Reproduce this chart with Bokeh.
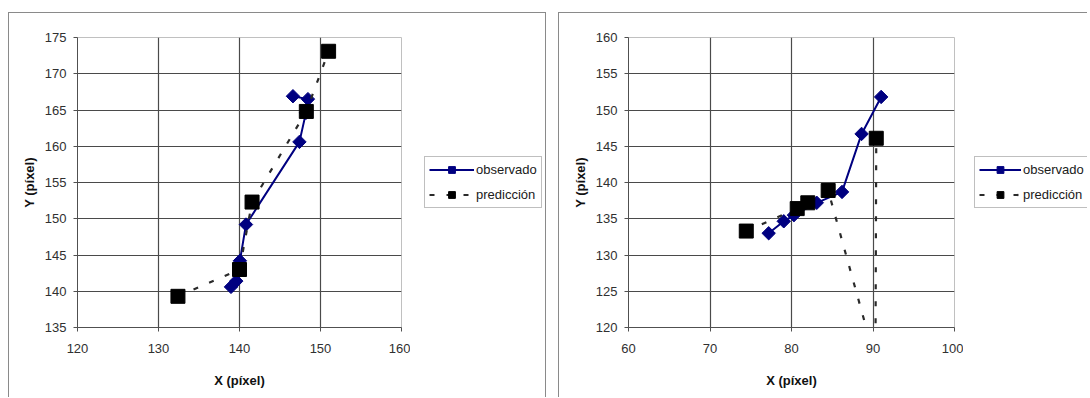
import numpy as np
from bokeh.plotting import figure
from bokeh.models import Legend, LegendItem, FixedTicker, Range1d
from bokeh.layouts import row
from bokeh.embed import file_html
from bokeh.resources import INLINE

# ---------------- data ----------------
# left chart
left_obs_x = [138.95, 139.6, 140.05, 140.8, 147.4, 148.2, 148.45, 146.6]
left_obs_y = [140.6, 141.4, 144.2, 149.2, 160.6, 164.6, 166.5, 166.9]
left_pred_x = [132.4, 140.0, 141.55, 148.25, 151.0]
left_pred_y = [139.3, 143.0, 152.3, 164.8, 173.1]
left_xticks = [120, 130, 140, 150, 160]
left_yticks = [135, 140, 145, 150, 155, 160, 165, 170, 175]

# right chart
right_obs_x = [77.2, 79.05, 80.3, 83.1, 86.2, 88.6, 91.0]
right_obs_y = [133.0, 134.65, 135.5, 137.2, 138.7, 146.7, 151.8]
right_pred_x = [74.45, 80.7, 82.0, 84.5, 90.3, 90.4]
right_pred_y = [133.3, 136.4, 137.2, 138.9, 115.4, 146.1]
right_xticks = [60, 70, 80, 90, 100]
right_yticks = [120, 125, 130, 135, 140, 145, 150, 155, 160]

series_labels = ["observado", "predicción"]
x_title = "X (píxel)"
y_title = "Y (píxel)"

FONT = "Liberation Sans"
BORDER = "1px solid #8a8a8a"

OBS_LINE = dict(line_color="#000080", line_width=2)
OBS_MARK = dict(marker="square", angle=np.pi / 4, size=9.5,
                fill_color="#000080", line_color="#000080")
PRED_LINE = dict(line_color="#2a2a2a", line_width=2.2, line_dash="5 12")
PRED_MARK = dict(marker="square", size=14, fill_color="black", line_color="black")


def make_chart(width, height, borders, xticks, yticks, obs_x, obs_y, pred_x, pred_y, margin):
    bl, bt, br, bb = borders
    p = figure(width=width, height=height,
               x_range=Range1d(xticks[0], xticks[-1]),
               y_range=Range1d(yticks[0], yticks[-1]),
               output_backend="svg", toolbar_location=None,
               min_border_left=bl, min_border_top=bt,
               min_border_right=br, min_border_bottom=bb,
               margin=margin)
    p.styles = {"border-left": BORDER, "border-top": BORDER}
    p.background_fill_color = "white"
    p.border_fill_color = "white"
    p.outline_line_color = "#c0c0c0"
    p.outline_line_width = 1

    for ax, ticks in ((p.xaxis, xticks), (p.yaxis, yticks)):
        ax.ticker = FixedTicker(ticks=ticks)
        ax.major_label_text_font = FONT
        ax.major_label_text_font_size = "13px"
        ax.major_label_text_color = "#303030"
        ax.axis_label_text_font = FONT
        ax.axis_label_text_font_size = "13px"
        ax.axis_label_text_font_style = "bold"
        ax.axis_label_text_color = "#111111"
        ax.axis_line_color = "#505050"
        ax.major_tick_line_color = "#505050"
        ax.major_tick_in = 0
        ax.major_tick_out = 4
        ax.minor_tick_line_color = None
    p.xaxis.axis_label = x_title
    p.yaxis.axis_label = y_title
    p.xaxis.major_label_standoff = 12
    p.xaxis.axis_label_standoff = 17
    p.yaxis.major_label_standoff = 7
    p.yaxis.axis_label_standoff = 5

    p.xgrid.ticker = FixedTicker(ticks=xticks[1:-1])
    p.ygrid.ticker = FixedTicker(ticks=yticks[1:-1])
    for g in (p.xgrid, p.ygrid):
        g.grid_line_color = "#4a4a4a"
        g.grid_line_width = 1.2

    p.line(obs_x, obs_y, **OBS_LINE)
    p.scatter(obs_x, obs_y, **OBS_MARK)
    p.line(pred_x, pred_y, **PRED_LINE)
    p.scatter(pred_x, pred_y, **PRED_MARK)
    return p


def make_legend_panel(width, height, margin, loc, glyph_w, right_border):
    q = figure(width=width, height=height, x_axis_type=None, y_axis_type=None,
               x_range=Range1d(0, 1), y_range=Range1d(0, 1),
               output_backend="svg", toolbar_location=None,
               min_border=0, margin=margin)
    sty = {"border-top": BORDER}
    if right_border:
        sty["border-right"] = BORDER
    q.styles = sty
    q.outline_line_color = None
    q.background_fill_color = "white"
    q.border_fill_color = "white"
    # legend-only renderers: one point kept outside the visible range
    off_x, off_y = [-5, -4], [-5, -5]
    l1 = q.line(off_x, off_y, **OBS_LINE)
    m1 = q.scatter(off_x, off_y, **OBS_MARK)
    l2 = q.line(off_x, off_y, **PRED_LINE)
    m2 = q.scatter(off_x, off_y, **PRED_MARK)
    legend = Legend(items=[LegendItem(label=series_labels[0], renderers=[l1, m1]),
                           LegendItem(label=series_labels[1], renderers=[l2, m2])],
                    location=loc)
    legend.padding = 4
    legend.spacing = 8
    legend.margin = 0
    legend.glyph_width = glyph_w
    legend.glyph_height = 17
    legend.label_height = 17
    legend.label_standoff = 2
    legend.label_text_font = FONT
    legend.label_text_font_size = "13px"
    legend.label_text_color = "#202020"
    legend.border_line_color = "#808080"
    legend.border_line_width = 1
    legend.background_fill_color = "white"
    legend.background_fill_alpha = 1
    q.add_layout(legend)
    return q


p1 = make_chart(402, 385, (68, 24, 10, 71), left_xticks, left_yticks,
                left_obs_x, left_obs_y, left_pred_x, left_pred_y, (12, 0, 0, 8))
g1 = make_legend_panel(136, 385, (12, 0, 0, 0), (14, 119), 45, True)
p2 = make_chart(405, 385, (69, 23, 10, 71), right_xticks, right_yticks,
                right_obs_x, right_obs_y, right_pred_x, right_pred_y, (12, 0, 0, 12))
g2 = make_legend_panel(124, 385, (12, 0, 0, 0), (11, 119), 42, False)

layout = row(p1, g1, p2, g2, spacing=0)
open("out.html", "w").write(file_html(layout, INLINE))
